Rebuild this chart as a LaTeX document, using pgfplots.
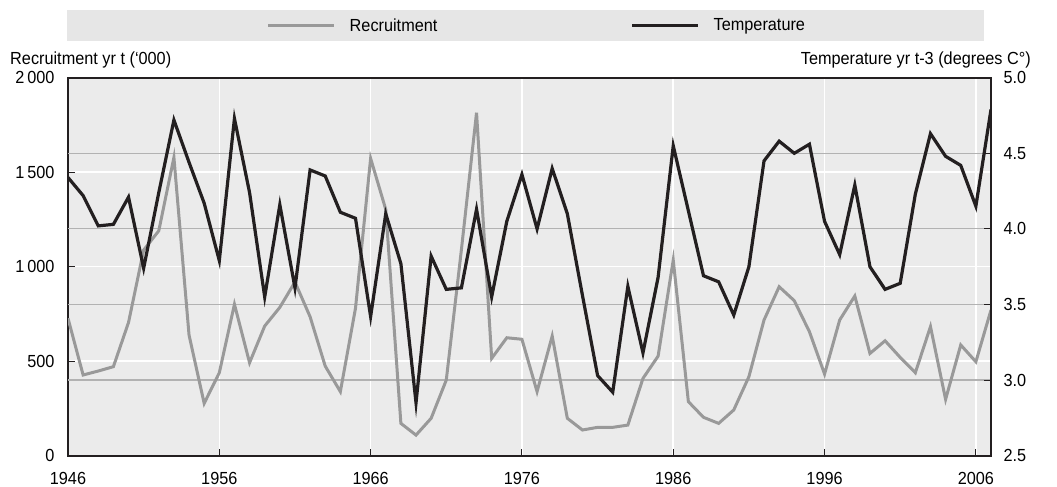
\documentclass[border=0pt]{standalone}
\usepackage{fontspec}
\setmainfont{Liberation Sans}[FakeStretch=0.93]
\usepackage{pgfplots}
\usepackage{pgfplotstable}
\pgfplotsset{compat=1.18}
\definecolor{bgcol}{RGB}{235,235,235}
\definecolor{legbg}{RGB}{230,230,230}
\definecolor{recgray}{RGB}{153,153,153}
\definecolor{tempblk}{RGB}{35,31,32}
\definecolor{gridgray}{RGB}{178,178,178}
\newcommand\chartfont{\fontsize{17.5}{21}\selectfont}

\pgfplotstableread{
year rec
1946 727
1947 427
1948 448
1949 471
1950 705
1951 1088
1952 1190
1953 1578
1954 638
1955 277
1956 439
1957 801
1958 492
1959 686
1960 785
1961 919
1962 735
1963 474
1964 339
1965 780
1966 1573
1967 1303
1968 171
1969 109
1970 198
1971 400
1972 1090
1973 1815
1974 515
1975 624
1976 616
1977 339
1978 633
1979 198
1980 136
1981 150
1982 150
1983 162
1984 409
1985 527
1986 1035
1987 286
1988 203
1989 171
1990 242
1991 418
1992 718
1993 894
1994 820
1995 656
1996 432
1997 718
1998 845
1999 541
2000 608
2001 520
2002 439
2003 683
2004 298
2005 586
2006 497
2007 771
}\rectable

\pgfplotstableread{
year temp
1946 4.34
1947 4.22
1948 4.02
1949 4.03
1950 4.21
1951 3.74
1952 4.24
1953 4.72
1954 4.44
1955 4.17
1956 3.79
1957 4.73
1958 4.24
1959 3.55
1960 4.16
1961 3.61
1962 4.39
1963 4.35
1964 4.11
1965 4.07
1966 3.42
1967 4.10
1968 3.77
1969 2.85
1970 3.82
1971 3.60
1972 3.61
1973 4.13
1974 3.55
1975 4.05
1976 4.36
1977 4.00
1978 4.40
1979 4.10
1980 3.56
1981 3.03
1982 2.92
1983 3.62
1984 3.18
1985 3.68
1986 4.55
1987 4.12
1988 3.69
1989 3.65
1990 3.43
1991 3.75
1992 4.45
1993 4.58
1994 4.50
1995 4.56
1996 4.05
1997 3.83
1998 4.29
1999 3.75
2000 3.60
2001 3.64
2002 4.23
2003 4.63
2004 4.48
2005 4.42
2006 4.15
2007 4.79
}\temptable

\begin{document}
\begin{tikzpicture}[font=\chartfont]
\useasboundingbox (0,0) rectangle (1057pt,487pt);
\fill[legbg] (67pt,446pt) rectangle (984pt,477pt);
\begin{axis}[
  at={(68pt,31.3pt)}, anchor=south west,
  scale only axis, width=923pt, height=378pt,
  xmin=1946, xmax=2007, ymin=0, ymax=2000,
  axis background/.style={fill=bgcol},
  axis line style={-, draw=tempblk, line width=2pt},
  xtick={1946,1956,...,2006},
  ytick={0,500,...,2000},
  xtick pos=left, ytick pos=left,
  tick align=inside,
  major tick length=7pt,
  tick style={draw=tempblk, line width=1pt},
  xmajorgrids, ymajorgrids,
  major grid style={draw=white, line width=1.5pt},
  extra y ticks={400,800,1200,1600},
  extra y tick labels={},
  extra y tick style={grid=major, major grid style={draw=gridgray, line width=1.2pt}, major tick length=0pt},
  /pgf/number format/assume math mode=true,
  tick label style={font=\chartfont},
  yticklabel style={/pgf/number format/1000 sep={\,}, xshift=-10pt},
  xticklabel style={/pgf/number format/1000 sep={}, yshift=-13pt},
  ylabel={Recruitment yr t (‘000)},
  every axis y label/.style={at={(axis description cs:-0.0628,1.0468)}, anchor=west, inner sep=0pt, font=\chartfont},
  legend columns=2,
  legend image code/.code={\draw[#1] (0pt,0pt) -- (66pt,0pt);},
  legend style={at={(0.508,1.138)}, anchor=center, draw=none, fill=none,
    font=\chartfont,
    /tikz/every odd column/.append style={column sep=12pt},
    /tikz/every even column/.append style={column sep=191pt}},
]
\addplot[recgray, line width=3pt, line join=miter] table[x=year,y=rec]{\rectable};
\addlegendentry{Recruitment}
\addlegendimage{tempblk, line width=3.2pt}
\addlegendentry{Temperature}
\end{axis}
\begin{axis}[
  at={(68pt,31.3pt)}, anchor=south west,
  scale only axis, width=923pt, height=378pt,
  xmin=1946, xmax=2007, ymin=2.5, ymax=5,
  axis x line=none, axis y line*=right,
  axis line style={-, draw=tempblk, line width=2pt},
  ytick={2.5,3,3.5,4,4.5,5},
  tick align=inside,
  major tick length=7pt,
  tick style={draw=tempblk, line width=1pt},
  /pgf/number format/assume math mode=true,
  tick label style={font=\chartfont},
  yticklabel style={/pgf/number format/.cd, fixed, fixed zerofill, precision=1, /tikz/.cd, xshift=9pt},
  ylabel={Temperature yr t-3 (degrees C°)},
  every axis y label/.style={at={(axis description cs:1.0433,1.0468)}, anchor=east, inner sep=0pt, font=\chartfont},
]
\addplot[tempblk, line width=3.2pt, line join=miter] table[x=year,y=temp]{\temptable};
\end{axis}
\end{tikzpicture}
\end{document}
